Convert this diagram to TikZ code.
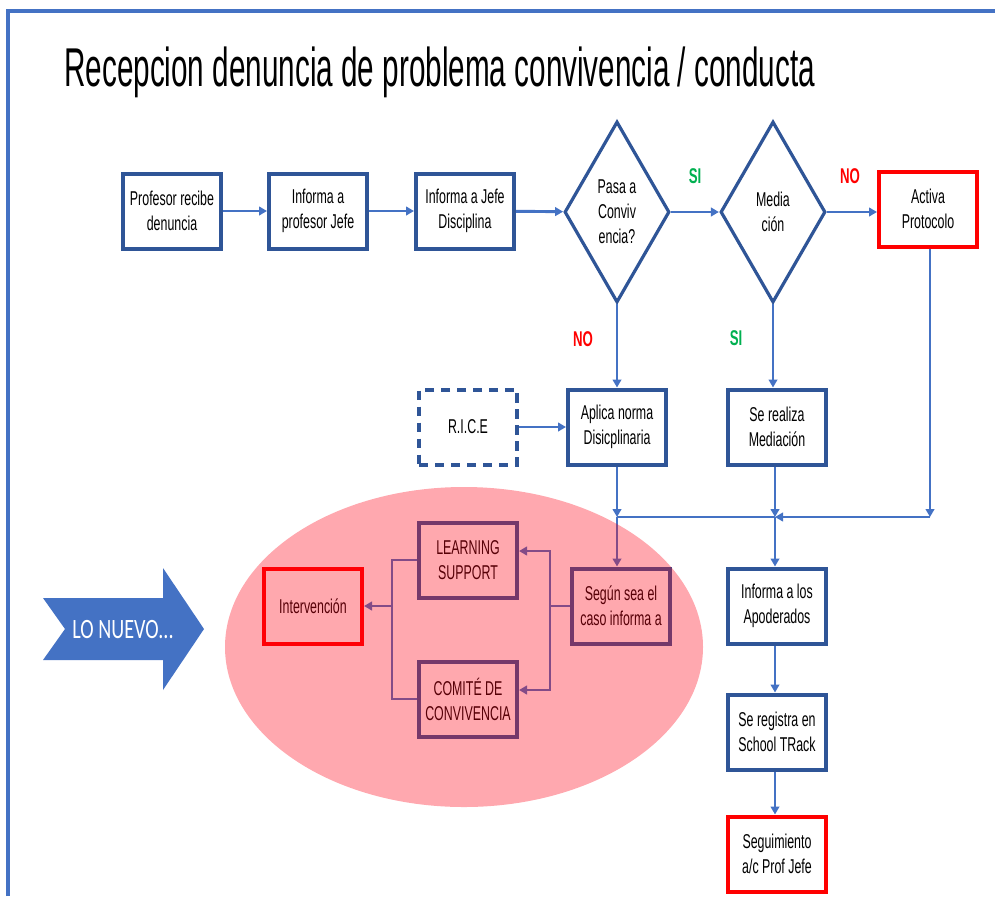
\documentclass[tikz,border=0pt]{standalone}
\usepackage{fontspec}
\setmainfont{Liberation Sans}
\newfontfamily\nar[FakeStretch=0.62]{Liberation Sans}
\newfontfamily\titnar[FakeStretch=0.543]{Liberation Sans}
\newfontfamily\calnar[FakeStretch=0.72]{Carlito}
\usetikzlibrary{shapes.geometric,arrows.meta}
\definecolor{dblue}{HTML}{2F5597}
\definecolor{lblue}{HTML}{4472C4}
\definecolor{sired}{HTML}{FF0000}
\definecolor{sigreen}{HTML}{00B050}
\definecolor{ovcol}{RGB}{255,0,20}
\tikzset{
  txt/.style={font=\nar\fontsize{15}{18.75}\selectfont, align=center, text=black},
  box/.style={txt, draw=dblue, line width=3pt, fill=white, minimum width=98*0.75pt, minimum height=75*0.75pt, inner sep=0pt},
  redbox/.style={box, draw=sired},
  dashbox/.style={box, dash pattern=on 7pt off 5pt},
  dec/.style={txt, diamond, draw=dblue, line width=2.4pt, fill=white, aspect=0.585, minimum width=105*0.75pt, minimum height=181*0.75pt, inner sep=0pt},
  conn/.style={draw=lblue, line width=2.2pt},
  arr/.style={conn, -{Triangle[length=6pt,width=6.5pt]}},
  lab/.style={font=\nar\bfseries\fontsize{16}{18}\selectfont},
}
\begin{document}
\begin{tikzpicture}[x=0.75pt,y=-0.75pt]
\useasboundingbox (0,0) rectangle (995,896);
% frame
\draw[lblue, line width=2.4pt] (8,896) -- (8,11) -- (995,11);
% title
\node[anchor=base west, inner sep=0pt, font=\titnar\fontsize{41}{48}\selectfont] (title) at (64,86) {Recepcion denuncia de problema convivencia / conducta};
% top row
\node[box] (p1) at (172,211) {Profesor recibe\\denuncia};
\node[box] (p2) at (318,211) {Informa a\\profesor Jefe};
\node[box] (p3) at (465,211) {Informa a Jefe\\Disciplina};
\node[dec] (d1) at (617,212) {Pasa a\\Conviv\\encia?};
\node[dec] (d2) at (773,212) {Media\\ción};
\node[redbox] (act) at (928,209) {Activa\\Protocolo};
\draw[arr] (p1) -- (p2);
\draw[arr] (p2) -- (p3);
\draw[arr] (p3) -- (d1);
\draw[arr] (d1) -- (d2);
\draw[arr] (d2.east) -- (d2.east -| act.west);
\node[lab, text=sigreen] (si1) at (695,176) {SI};
\node[lab, text=sired] (no1) at (850,176) {NO};
% second row
\node[dashbox] (rice) at (468,427) {R.I.C.E};
\node[box] (apl) at (617,427) {Aplica norma\\Disicplinaria};
\node[box] (med) at (777,427) {Se realiza\\Mediación};
\draw[arr] (d1.south) -- (apl.north);
\draw[arr] (d2.south) -- (d2.south |- med.north);
\node[lab, text=sired] (no2) at (583,339) {NO};
\node[lab, text=sigreen] (si2) at (736,338) {SI};
\draw[arr] (rice) -- (apl);
% junction
\coordinate (j1) at (617,517);
\coordinate (j2) at (775,517);
\coordinate (j3) at (930,517);
\draw[arr] (apl.south) -- (j1);
\draw[arr] (med.south -| j2) -- (j2);
\draw[arr] (act.south -| j3) -- (j3);
\draw[arr] (j3) -- (j2);
\draw[conn] (j1) -- (j2);
% right column
\node[box] (inf) at (777,606) {Informa a los\\Apoderados};
\node[box] (reg) at (777,732) {Se registra en\\School TRack};
\node[redbox] (seg) at (777,854) {Seguimiento\\a/c Prof Jefe};
\draw[arr] (j2) -- (j2 |- inf.north);
\draw[arr] (inf.south -| j2) -- (reg.north -| j2);
\draw[arr] (reg.south -| j2) -- (seg.north -| j2);
% ellipse group
\node[box] (segun) at (621,606) {Según sea el\\caso informa a};
\node[box] (lsup) at (468,560) {LEARNING\\SUPPORT};
\node[box] (com) at (468,699) {COMITÉ DE\\CONVIVENCIA};
\node[redbox] (interv) at (313,606) {Intervención};
\draw[arr] (j1) -- (j1 |- segun.north);
\coordinate (sj) at (550,606);
\coordinate (lj) at (392,606);
\draw[conn] (segun.west) -- (sj);
\draw[arr] (sj) |- ([yshift=6.75pt]lsup.east);
\draw[arr] (sj) |- ([yshift=6.75pt]com.east);
\draw[conn] (lsup.west) -| (lj);
\draw[conn] (com.west) -| (lj);
\draw[arr] (lj) -- (interv.east);
\fill[ovcol, fill opacity=0.34] (464,647) ellipse [x radius=179.25pt, y radius=120pt];
% LO NUEVO arrow
\fill[lblue] (43,598) -- (163,598) -- (163,568) -- (204,629) -- (163,690) -- (163,660) -- (43,660) -- (65,629) -- cycle;
\node[font=\calnar\fontsize{21}{24}\selectfont, text=white] (nuevo) at (123,630) {LO NUEVO...};
\end{tikzpicture}
\end{document}
